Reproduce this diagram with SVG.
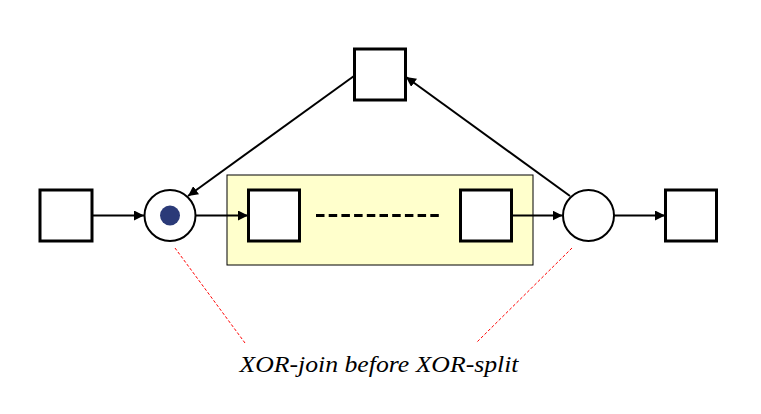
<svg xmlns="http://www.w3.org/2000/svg" width="761" height="414" viewBox="0 0 761 414">
<style>
.t{fill:#fff;stroke:#000;stroke-width:3}
.p{fill:#fff;stroke:#000;stroke-width:2}
.c{stroke:#000;stroke-width:2;fill:none}
.r{stroke:#f00;stroke-width:1;stroke-dasharray:3 2;fill:none}
.lbl{font-family:"Liberation Serif","Times New Roman",serif;font-style:italic;font-size:24px}
</style>
<defs>
<marker id="a" viewBox="0 0 10 10" refX="10" refY="5" markerWidth="5" markerHeight="5" orient="auto" markerUnits="strokeWidth">
<path d="M0,0 L10,5 L0,10 z" fill="#000"/>
</marker>
</defs>
<rect width="761" height="414" fill="#fff"/>
<g id="region"><rect x="227" y="175" width="306" height="90" fill="#FFFFCC" stroke="#000" stroke-width="1"/></g>
<g id="connectors">
<line class="c" x1="93" y1="215.5" x2="144" y2="215.5" marker-end="url(#a)"/>
<line class="c" x1="196" y1="215.5" x2="248" y2="215.5" marker-end="url(#a)"/>
<line class="c" x1="512" y1="215.5" x2="562.5" y2="215.5" marker-end="url(#a)"/>
<line class="c" x1="614" y1="215.5" x2="665" y2="215.5" marker-end="url(#a)"/>
<line class="c" x1="354" y1="76" x2="188" y2="196" marker-end="url(#a)"/>
<line class="c" x1="570" y1="196" x2="406" y2="77" marker-end="url(#a)"/>
<line x1="316" y1="215.5" x2="443" y2="215.5" stroke="#000" stroke-width="3" stroke-dasharray="8.5 4.2"/>
<line class="r" x1="175" y1="248" x2="245" y2="343"/>
<line class="r" x1="572" y1="248" x2="476" y2="343"/>
</g>
<g id="t1"><rect class="t" x="40" y="190" width="52" height="51"/></g>
<g id="p1"><circle class="p" cx="170" cy="215.5" r="25.5"/><circle cx="170" cy="215.5" r="10" fill="#2B3A78"/></g>
<g id="t2"><rect class="t" x="248.5" y="190" width="51" height="51"/></g>
<g id="t3"><rect class="t" x="460.5" y="190" width="51" height="51"/></g>
<g id="p2"><circle class="p" cx="588.5" cy="215.5" r="25.5"/></g>
<g id="t4"><rect class="t" x="665.5" y="190" width="51" height="51"/></g>
<g id="t5"><rect class="t" x="354.5" y="49" width="51" height="51"/></g>
<g id="label"><text class="lbl" x="379" y="372" text-anchor="middle" textLength="279" lengthAdjust="spacingAndGlyphs">XOR-join before XOR-split</text></g>
</svg>
